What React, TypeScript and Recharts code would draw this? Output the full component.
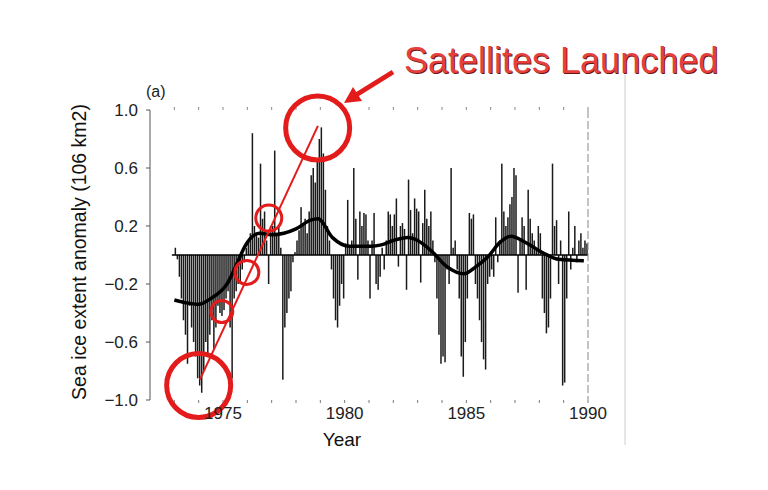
import React from 'react';
import {
  ComposedChart, Bar, Line, XAxis, YAxis, ReferenceLine, ReferenceDot
} from 'recharts';

// monthly sea ice extent anomaly (10^6 km2), Jan..Dec
const YEARS = [1973, 1974, 1975, 1976, 1977, 1978, 1979, 1980, 1981, 1982, 1983, 1984, 1985, 1986, 1987, 1988, 1989];
const ANOM_1973 = [0.05, -0.03, -0.15, -0.3, -0.45, -0.55, -0.75, -0.35, -0.5, -0.6, -0.7, -0.85];
const ANOM_1974 = [-0.9, -0.95, -0.8, -0.6, -0.7, -0.55, -0.45, -0.65, -0.5, -0.35, -0.4, -0.42];
const ANOM_1975 = [-0.38, -0.3, -0.25, -0.5, -0.85, -0.3, -0.25, -0.2, -0.18, -0.1, -0.05, 0.05];
const ANOM_1976 = [0.1, 0.15, 0.84, 0.2, 0.15, 0.12, 0.63, 0.25, 0.3, 0.1, -0.2, 0.2];
const ANOM_1977 = [0.2, 0.72, 0.15, 0.2, 0.05, -0.86, -0.5, -0.4, -0.3, -0.25, -0.05, 0.02];
const ANOM_1978 = [0.1, 0.17, 0.33, 0.2, 0.25, 0.15, 0.3, 0.55, 0.6, 0.5, 0.66, 0.8];
const ANOM_1979 = [0.88, 0.7, 0.45, 0.2, 0.1, -0.1, -0.3, -0.45, -0.5, -0.35, -0.2, -0.3];
const ANOM_1980 = [0.08, 0.38, 0.05, 0.1, 0.6, 0.25, -0.17, 0.3, 0.2, 0.29, 0.28, 0.1];
const ANOM_1981 = [-0.3, 0.1, 0.29, -0.2, -0.24, -0.15, 0.05, -0.1, 0.1, 0.3, 0.28, 0.2];
const ANOM_1982 = [0.28, 0.39, -0.08, 0.2, 0.22, 0.18, -0.24, 0.52, 0.31, 0.15, 0.39, 0.32];
const ANOM_1983 = [0.3, -0.19, 0.22, 0.45, 0.25, 0.2, 0.3, 0.1, -0.05, -0.3, -0.55, -0.75];
const ANOM_1984 = [-0.7, -0.74, -0.1, -0.2, 0.6, 0.05, 0.1, -0.1, -0.3, -0.7, -0.84, -0.6];
const ANOM_1985 = [-0.3, 0.29, 0.25, 0.28, -0.2, -0.3, -0.45, -0.6, -0.72, -0.79, -0.2, -0.15];
const ANOM_1986 = [-0.1, -0.15, 0.26, -0.05, 0.1, 0.63, 0.3, 0.2, 0.26, 0.35, 0.4, 0.6];
const ANOM_1987 = [0.55, -0.26, 0.1, 0.26, 0.2, -0.24, 0.45, 0.25, 0.15, 0.1, 0.05, 0.2];
const ANOM_1988 = [0.15, -0.3, -0.4, -0.54, -0.5, -0.3, 0.63, 0.2, 0.24, -0.2, 0.1, -0.9];
const ANOM_1989 = [-0.88, -0.3, 0.3, -0.1, 0.05, 0.2, -0.05, 0.1, 0.15, 0.05, 0.1, 0.08];
const ANOMALY = [
  ANOM_1973, ANOM_1974, ANOM_1975, ANOM_1976, ANOM_1977, ANOM_1978, ANOM_1979, ANOM_1980, ANOM_1981,
  ANOM_1982, ANOM_1983, ANOM_1984, ANOM_1985, ANOM_1986, ANOM_1987, ANOM_1988, ANOM_1989,
];

// smoothed curve, read at points along the black line
const SMOOTH_T = [1973.0, 1973.5, 1974.0, 1974.5, 1975.2, 1975.6, 1975.9, 1976.5, 1977.0, 1977.5, 1978.0, 1978.6, 1978.9, 1979.5, 1980.2, 1981.1, 1981.5, 1982.0, 1982.6, 1983.0, 1983.55, 1984.2, 1984.9, 1985.4, 1985.9, 1986.4, 1986.84, 1987.4, 1988.2, 1988.8, 1989.83];
const SMOOTH_V = [-0.31, -0.33, -0.34, -0.3, -0.19, -0.05, 0.06, 0.15, 0.14, 0.15, 0.18, 0.24, 0.25, 0.12, 0.06, 0.06, 0.07, 0.1, 0.12, 0.1, 0.03, -0.08, -0.13, -0.08, -0.01, 0.09, 0.13, 0.09, 0.01, -0.03, -0.04];

// red annotations (data units)
const CIRCLE_T = [1974.0, 1974.95, 1975.98, 1976.88, 1978.89];
const CIRCLE_V = [-0.9, -0.39, -0.12, 0.255, 0.876];
const TREND_T = [1974.05, 1978.9];
const TREND_V = [-0.86, 0.89];

const X_TICKS = [1973, 1974, 1975, 1976, 1977, 1978, 1979, 1980, 1981, 1982, 1983, 1984, 1985, 1986, 1987, 1988, 1989, 1990];
const X_LABELS = [1975, 1980, 1985, 1990];
const Y_TICKS = [-1.0, -0.6, -0.2, 0.2, 0.6, 1.0];

const RED = '#e31b1b';
const FONT = '"Liberation Sans", Arial, sans-serif';

const monthly = YEARS.flatMap((y, i) =>
  ANOMALY[i].map((v, m) => ({ t: y + (m + 0.5) / 12, v }))
);
const smooth = SMOOTH_T.map((t, i) => ({ t, s: SMOOTH_V[i] }));

const fmtY = (v: number) => (v < 0 ? '\u2212' + Math.abs(v).toFixed(1) : v.toFixed(1));
const fmtX = (v: number) => (X_LABELS.includes(v) ? String(v) : '');

// thin spike, centred on the month whatever width recharts hands over
const Spike = (props: any) => {
  const { x, y, width, height } = props;
  if (x == null || y == null) return null;
  const cx = x + (width || 0) / 2;
  const top = Math.min(y, y + height);
  const h = Math.abs(height);
  return <rect x={cx - 0.75} y={top} width={1.5} height={h} fill="#1a1a1a" />;
};

export default function App() {
  return (
    <div style={{ position: 'absolute', left: 0, top: 0, width: 768, height: 490, background: '#fff', fontFamily: FONT }}>
      <ComposedChart
        width={768}
        height={490}
        data={monthly}
        margin={{ top: 100, right: 170, bottom: 60, left: 90 }}
      >
        <XAxis
          dataKey="t"
          type="number"
          domain={[1972, 1990]}
          ticks={X_TICKS}
          tickFormatter={fmtX}
          allowDataOverflow
          axisLine={false}
          tickLine={{ stroke: '#777' }}
          tickSize={3}
          tickMargin={4}
          height={30}
          tick={{ fontSize: 17, fill: '#222', fontFamily: FONT }}
          interval={0}
        />
        <XAxis
          xAxisId="top"
          orientation="top"
          dataKey="t"
          type="number"
          domain={[1972, 1990]}
          ticks={X_TICKS}
          tickFormatter={() => ''}
          axisLine={false}
          tickLine={{ stroke: '#888' }}
          tickSize={3}
          height={10}
        />
        <YAxis
          type="number"
          domain={[-1, 1]}
          ticks={Y_TICKS}
          tickFormatter={fmtY}
          allowDataOverflow
          axisLine={{ stroke: '#555' }}
          tickLine={{ stroke: '#555' }}
          tickSize={4}
          tickMargin={8}
          width={60}
          tick={{ fontSize: 17, fill: '#222', fontFamily: FONT }}
          interval={0}
        />
        <YAxis
          yAxisId="right"
          orientation="right"
          type="number"
          domain={[-1, 1]}
          ticks={Y_TICKS}
          tickFormatter={() => ''}
          axisLine={{ stroke: '#888', strokeDasharray: '8 3' }}
          tickLine={{ stroke: '#888' }}
          tickSize={3}
          width={10}
        />
        <ReferenceLine
          segment={[{ x: 1972.9, y: 0 }, { x: 1990, y: 0 }]}
          stroke="#000"
          strokeWidth={1.5}
        />
        <Bar dataKey="v" fill="#1a1a1a" shape={<Spike />} isAnimationActive={false} />
        <Line
          data={smooth}
          dataKey="s"
          type="monotone"
          stroke="#000"
          strokeWidth={3.5}
          dot={false}
          isAnimationActive={false}
        />
        <ReferenceLine
          segment={[{ x: TREND_T[0], y: TREND_V[0] }, { x: TREND_T[1], y: TREND_V[1] }]}
          stroke={RED}
          strokeWidth={2}
          ifOverflow="visible"
        />
        {CIRCLE_T.map((t, i) => {
          const big = i === 0 || i === CIRCLE_T.length - 1;
          return (
            <ReferenceDot
              key={i}
              x={t}
              y={CIRCLE_V[i]}
              r={big ? 32 : [11, 12, 13][i - 1]}
              fill="none"
              stroke={RED}
              strokeWidth={big ? 5 : 3}
              ifOverflow="visible"
            />
          );
        })}
      </ComposedChart>

      <svg width={768} height={490} style={{ position: 'absolute', left: 0, top: 0, pointerEvents: 'none' }}>
        <line x1={625} y1={75} x2={625} y2={445} stroke="#ccc" strokeWidth={1} />
        <text x={146} y={97} fontSize={16} fill="#222" fontFamily={FONT}>(a)</text>
        <text
          x={342}
          y={446}
          fontSize={19}
          fill="#111"
          textAnchor="middle"
          fontFamily={FONT}
        >
          Year
        </text>
        <text
          transform="translate(86 252) rotate(-90)"
          fontSize={19.5}
          fill="#111"
          textAnchor="middle"
          fontFamily={FONT}
        >
          Sea ice extent anomaly (106 km2)
        </text>
        <line x1={393} y1={72} x2={356} y2={95} stroke={RED} strokeWidth={5} />
        <polygon points="344,103 362,101 353,87" fill={RED} />
        <text
          x={404}
          y={73}
          fontSize={36}
          fill="#e5403c"
          fontFamily={FONT}
          style={{ textShadow: '1px 1px 0 #6b1414' }}
        >
          Satellites Launched
        </text>
      </svg>
    </div>
  );
}
